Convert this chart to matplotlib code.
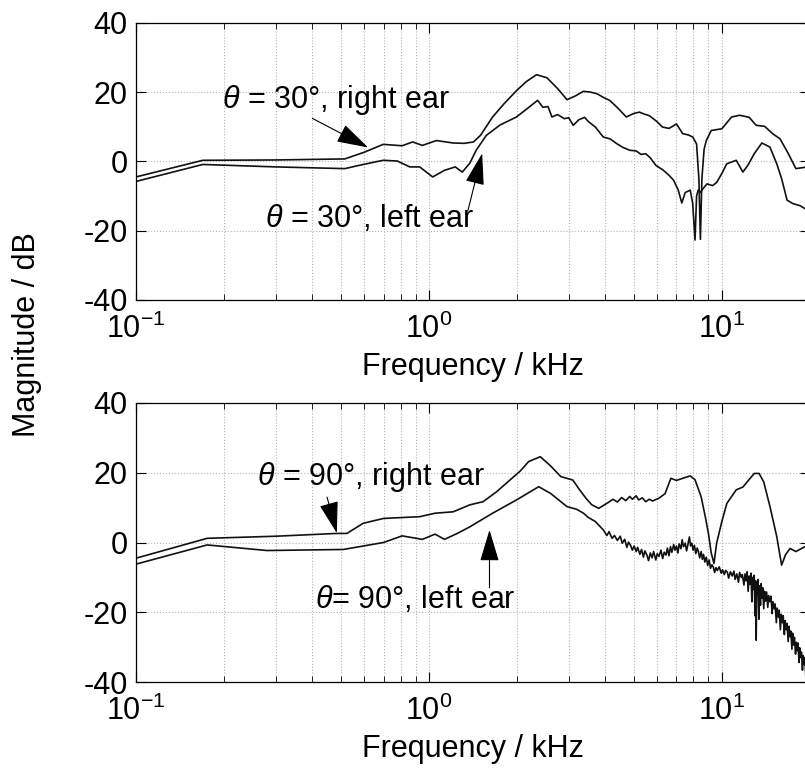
import matplotlib
matplotlib.use('Agg')
import matplotlib.pyplot as plt
from matplotlib.ticker import LogLocator, NullFormatter

plt.rcParams['font.family'] = ['Liberation Sans', 'DejaVu Sans']
plt.rcParams['mathtext.fontset'] = 'custom'
plt.rcParams['mathtext.rm'] = 'Liberation Sans'
plt.rcParams['mathtext.it'] = 'Liberation Sans:italic'
plt.rcParams['axes.unicode_minus'] = False
plt.rcParams['font.size'] = 22

# theta = 30 deg, right ear
f30_right = [0.1, 0.169, 0.3, 0.516, 0.6, 0.698, 0.81, 0.88, 0.95, 1.06, 1.21, 1.32,
             1.42, 1.5, 1.65, 1.8, 1.99, 2.15, 2.33, 2.53, 2.75, 2.96, 3.15, 3.37,
             3.55, 3.75, 3.95, 4.14, 4.4, 4.72, 5.0, 5.23, 5.45, 5.65, 6.0, 6.27,
             6.6, 7.0, 7.35, 7.7, 7.96, 8.2, 8.35, 8.45, 8.55, 8.7, 8.85, 9.2, 10.0,
             10.8, 11.5, 12.4, 13.1, 14.0, 14.9, 15.8, 16.8, 17.9, 20.0]
db30_right = [-4.5, 0.3, 0.4, 0.7, 2.6, 4.9, 4.5, 5.6, 4.6, 6.0, 5.3, 5.2,
              5.6, 7.5, 12.8, 16.5, 20.4, 23.0, 25.0, 24.1, 21.0, 17.8, 18.8, 20.2,
              20.0, 19.5, 18.4, 17.6, 15.5, 12.8, 13.8, 14.2, 13.6, 13.2, 11.5, 9.9,
              9.5, 10.8, 8.0, 7.6, 7.0, 5.0, -5.0, -22.5, -5.0, 3.5, 6.0, 8.9, 9.4,
              12.8, 13.3, 12.7, 10.4, 10.1, 8.0, 6.5, 2.5, -2.1, -1.5]

# theta = 30 deg, left ear
f30_left = [0.1, 0.169, 0.3, 0.516, 0.596, 0.698, 0.78, 0.86, 0.93, 1.03, 1.13, 1.23,
            1.30, 1.38, 1.45, 1.57, 1.75, 1.99, 2.15, 2.35, 2.45, 2.55, 2.63, 2.75,
            2.9, 3.0, 3.11, 3.25, 3.4, 3.5, 3.7, 3.94, 4.15, 4.38, 4.6, 4.85, 5.1,
            5.3, 5.5, 5.7, 5.96, 6.3, 6.6, 6.85, 7.1, 7.3, 7.5, 7.8, 7.95, 8.1, 8.2,
            8.3, 8.45, 8.6, 8.9, 9.3, 9.6, 10.0, 10.4, 11.2, 11.8, 12.3, 12.9, 13.7,
            14.6, 15.4, 16.0, 16.7, 17.5, 18.5, 20.0]
db30_left = [-5.8, -0.9, -1.6, -2.1, -0.9, 0.3, 0.1, -1.6, -1.6, -4.5, -2.6, -1.6,
             -3.1, -0.5, 3.2, 7.5, 10.5, 12.8, 15.0, 17.6, 15.6, 15.8, 12.8, 13.5,
             12.3, 12.6, 10.4, 12.0, 12.7, 11.5, 9.9, 7.0, 6.5, 5.1, 4.0, 3.2, 3.0,
             2.0, 2.2, 1.0, -1.2, -2.5, -4.0, -5.5, -8.3, -12.0, -9.0, -8.3, -12.0,
             -22.7, -10.0, -8.3, -9.0, -8.0, -6.5, -7.0, -6.1, -3.5, -0.7, 0.3, -3.1,
             -1.0, 2.2, 5.3, 4.1, -0.7, -5.0, -11.2, -12.2, -12.8, -14.5]

# theta = 90 deg, right ear
f90_right = [0.1, 0.175, 0.3, 0.485, 0.525, 0.596, 0.70, 0.93, 1.05, 1.21, 1.38, 1.53,
             1.7, 1.89, 2.05, 2.19, 2.4, 2.6, 2.82, 3.1, 3.27, 3.45, 3.6, 3.8, 4.1,
             4.25, 4.4, 4.55, 4.7, 4.85, 4.95, 5.1, 5.2, 5.35, 5.5, 5.65, 5.8, 6.1,
             6.4, 6.7, 7.0, 7.35, 7.8, 8.1, 8.5, 8.8, 9.0, 9.2, 9.4, 9.6, 10.0, 10.4,
             11.2, 11.8, 12.9, 13.4, 13.9, 14.6, 15.4, 16.0, 16.5, 17.1, 17.9, 19.2,
             20.0]
db90_right = [-4.5, 1.2, 1.8, 2.6, 2.6, 5.5, 6.9, 7.4, 8.4, 8.8, 10.8, 11.7,
              14.5, 17.9, 20.5, 23.2, 24.6, 22.0, 18.9, 17.9, 15.1, 12.5, 10.8, 9.8,
              11.5, 12.4, 11.6, 12.9, 12.0, 13.2, 12.4, 13.4, 12.2, 12.8, 11.7, 12.4,
              11.9, 12.7, 14.0, 18.4, 17.8, 18.4, 19.1, 18.0, 13.1, 7.0, 2.6, -3.0,
              -6.0, -0.2, 6.0, 11.2, 15.1, 15.9, 19.8, 19.8, 17.4, 10.3, 1.7, -6.5,
              -3.5, -1.7, -2.6, -1.2, -1.5]

# theta = 90 deg, left ear
f90_left = [0.1, 0.175, 0.28, 0.51, 0.70, 0.81, 0.95, 1.05, 1.13, 1.25, 1.38, 1.65,
            1.99, 2.37, 2.6, 2.96, 3.2, 3.37, 3.5, 3.7,
            3.94, 4.05, 4.12, 4.22, 4.3, 4.4, 4.5, 4.57, 4.66, 4.74, 4.8, 4.88, 4.95,
            5.02, 5.1, 5.16, 5.25, 5.32, 5.4, 5.46, 5.55, 5.62, 5.7, 5.78, 5.85, 5.95,
            6.02, 6.1, 6.2, 6.28, 6.36, 6.45, 6.52, 6.6, 6.68, 6.75, 6.85, 6.92, 7.0,
            7.08, 7.15, 7.25, 7.32, 7.4, 7.5, 7.58, 7.66, 7.75, 7.82, 7.9, 7.98, 8.06,
            8.15, 8.24, 8.32, 8.4, 8.5, 8.58, 8.66, 8.75, 8.85, 8.95, 9.05, 9.15,
            9.25, 9.35, 9.45, 9.55, 9.65, 9.8, 9.95, 10.05, 10.2, 10.3, 10.45, 10.55,
            10.7, 10.85, 11.0, 11.1, 11.25, 11.4, 11.5, 11.65, 11.75, 11.9, 12.0,
            12.1, 12.2, 12.3, 12.4, 12.5, 12.58, 12.66, 12.74, 12.82, 12.9, 12.98,
            13.05, 13.1, 13.16, 13.24, 13.3, 13.38, 13.45, 13.55, 13.62, 13.72, 13.8,
            13.9, 14.0, 14.1, 14.22, 14.35, 14.45, 14.6, 14.72, 14.85, 14.95, 15.1,
            15.2, 15.35, 15.45, 15.6, 15.7, 15.85, 15.95, 16.1, 16.2, 16.35, 16.45,
            16.6, 16.7, 16.85, 16.95, 17.1, 17.2, 17.35, 17.45, 17.6, 17.7, 17.85,
            17.95, 18.1, 18.2, 18.35, 18.45, 18.6, 18.7, 18.85, 18.95, 19.1, 19.2,
            19.35, 19.45, 19.6, 19.7, 19.85, 20.0]
db90_left = [-6.2, -0.7, -2.3, -2.0, 0.0, 1.9, 0.9, 2.4, 0.9, 2.6, 4.5, 8.4,
             12.2, 16.0, 14.1, 10.3, 9.5, 8.4, 7.2, 6.0,
             3.6, 2.0, 3.1, 1.2, 2.0, 0.6, 1.8, -0.2, 0.9, -1.4, 0.1, -0.8, -2.2,
             -1.0, -2.6, -1.4, -3.4, -2.0, -4.2, -2.4, -3.6, -5.2, -3.0, -4.4, -2.6, -5.0,
             -3.2, -4.0, -2.2, -4.6, -2.8, -3.6, -1.6, -3.8, -1.2, -2.8, -0.6, -2.2, -1.0,
             -3.0, -0.4, -1.8, 0.8, -1.2, -0.2, -2.4, -0.6, 1.6, -1.0, -0.2, -2.2, -0.8,
             -3.2, -1.6, -2.6, -4.4, -2.6, -4.8, -3.4, -5.6, -4.2, -6.6, -5.0, -7.4,
             -6.4, -7.0, -8.6, -7.2, -8.0, -7.0, -8.8, -7.8, -9.2, -8.0, -8.6, -10.2,
             -8.4, -9.6, -8.2, -10.6, -9.0, -11.4, -8.6, -10.0, -9.2, -12.2, -9.0,
             -11.0, -8.4, -14.0, -9.6, -12.0, -8.8, -17.0, -10.0, -13.5, -9.4, -21.0,
             -11.0, -28.0, -12.0, -15.0, -10.6, -22.0, -12.4, -18.0, -11.8, -16.0, -13.0,
             -19.0, -14.0, -16.8, -14.2, -18.6, -15.2, -17.0, -15.4, -20.4, -17.0, -19.0,
             -17.6, -23.0, -18.8, -21.4, -19.4, -25.0, -20.6, -23.0, -21.0, -26.4, -22.4,
             -25.0, -23.2, -28.4, -24.0, -27.0, -25.4, -30.6, -26.0, -29.4, -27.2, -32.0,
             -28.6, -31.0, -28.8, -34.4, -30.2, -33.0, -31.4, -36.6, -32.4, -35.0, -33.0,
             -38.4, -34.6, -37.2, -35.4, -40.0, -37.0]

fig = plt.figure(figsize=(8.05, 7.78), dpi=100)
ax1 = fig.add_axes([136 / 805, 1 - 300 / 778, (810 - 136) / 805, (300 - 22.7) / 778])
ax2 = fig.add_axes([136 / 805, 1 - 682 / 778, (810 - 136) / 805, (682 - 403) / 778])

grid_kw = dict(color='#b4b4b4', linestyle=':', linewidth=0.8)
arrow_kw = dict(arrowstyle='-|>,head_length=1.0,head_width=0.3', mutation_scale=20,
                color='k', lw=0.8, shrinkA=0, shrinkB=0)

for ax in (ax1, ax2):
    ax.set_xscale('log')
    ax.set_xlim(0.1, 20)
    ax.set_ylim(-40, 40)
    ax.set_yticks([-40, -20, 0, 20, 40])
    ax.xaxis.set_major_locator(LogLocator(base=10, numticks=10))
    ax.xaxis.set_minor_locator(LogLocator(base=10, subs=range(2, 10), numticks=10))
    ax.xaxis.set_minor_formatter(NullFormatter())
    ax.tick_params(which='both', direction='in', top=True, right=True)
    ax.tick_params(which='major', length=7, width=0.8)
    ax.tick_params(which='minor', length=4, width=0.6)
    ax.tick_params(axis='x', which='major', pad=10)
    ax.tick_params(axis='y', which='major', pad=6)
    ax.set_axisbelow(True)
    ax.grid(True, which='major', axis='both', **grid_kw)
    ax.grid(True, which='minor', axis='x', **grid_kw)
    ax.set_xlabel('Frequency / kHz', labelpad=5)
    for s in ax.spines.values():
        s.set_linewidth(0.9)

ax1.plot(f30_right, db30_right, color='#111111', lw=1.2)
ax1.plot(f30_left, db30_left, color='#111111', lw=1.2)
ax2.plot(f90_right, db90_right, color='#111111', lw=1.2)
ax2.plot(f90_left, db90_left, color='#111111', lw=1.2)

ax1.text(0.197, 15.5, r'$\theta$ = 30°, right ear', ha='left', va='baseline')
ax1.annotate('', xy=(0.62, 4.0), xytext=(0.40, 12.4), arrowprops=arrow_kw)
ax1.text(0.275, -19.0, r'$\theta$ = 30°, left ear', ha='left', va='baseline')
ax1.annotate('', xy=(1.52, 2.3), xytext=(1.36, -14.1), arrowprops=arrow_kw)

ax2.text(0.259, 16.5, r'$\theta$ = 90°, right ear', ha='left', va='baseline')
ax2.annotate('', xy=(0.485, 2.7), xytext=(0.449, 13.0), arrowprops=arrow_kw)
ax2.text(0.408, -18.8, r'$\theta$= 90°, left ear', ha='left', va='baseline')
ax2.annotate('', xy=(1.61, 3.6), xytext=(1.61, -13.0), arrowprops=arrow_kw)

fig.text(27 / 805, 1 - 335 / 778, 'Magnitude / dB', rotation=90, ha='center', va='center')

fig.savefig('out.png', dpi=100)
